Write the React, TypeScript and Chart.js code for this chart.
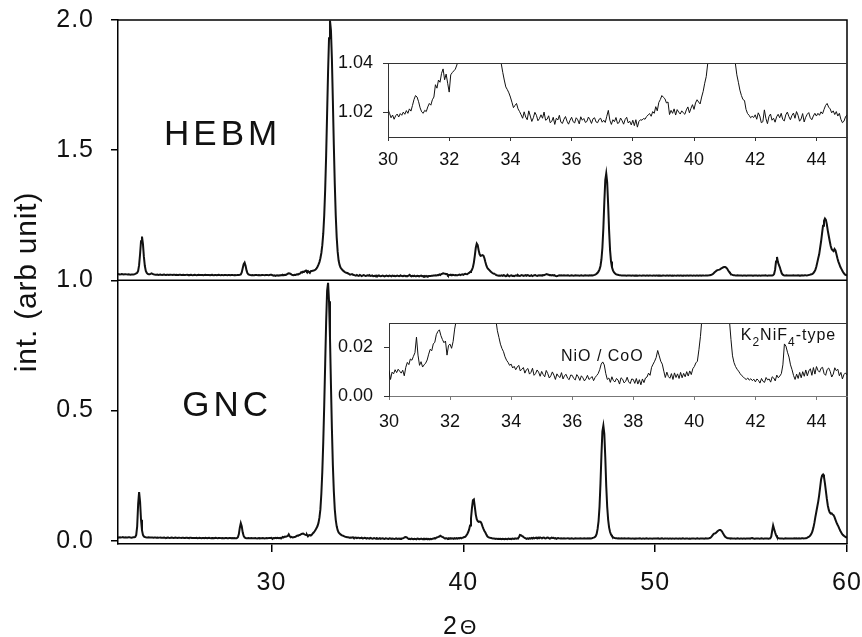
import { useEffect, useRef } from "react";
import { Chart, registerables } from "chart.js";

Chart.register(...registerables);

const FONT = '"Liberation Sans", Arial, Helvetica, sans-serif';

// Scan grid: 2Θ from 22° to 60° in 0.05° steps (20 readings per degree, one row per degree)
const SCAN_START = 22;
const SCAN_STEP = 0.05;

// HEBM intensity before stacking
const hebmIntensity: number[] = [
  /* 22 */ 0.0230, 0.0235, 0.0225, 0.0230, 0.0238, 0.0232, 0.0226, 0.0231, 0.0236, 0.0228, 0.0222, 0.0229, 0.0224, 0.0218, 0.0226, 0.0221, 0.0225, 0.0232, 0.0245, 0.0262,
  /* 23 */ 0.029, 0.036, 0.058, 0.100, 0.150, 0.168, 0.140, 0.090, 0.055, 0.036, 0.028, 0.0245, 0.023, 0.0232, 0.0245, 0.0265, 0.025, 0.0228, 0.0221, 0.0218,
  /* 24 */ 0.0212, 0.0218, 0.0209, 0.0215, 0.0220, 0.0211, 0.0206, 0.0214, 0.0219, 0.0212, 0.0208, 0.0215, 0.0210, 0.0204, 0.0213, 0.0217, 0.0209, 0.0205, 0.0212, 0.0216,
  /* 25 */ 0.0208, 0.0213, 0.0206, 0.0202, 0.0210, 0.0215, 0.0208, 0.0203, 0.0211, 0.0207, 0.0200, 0.0209, 0.0214, 0.0206, 0.0201, 0.0208, 0.0212, 0.0205, 0.0199, 0.0207,
  /* 26 */ 0.0211, 0.0204, 0.0199, 0.0207, 0.0212, 0.0205, 0.0201, 0.0208, 0.0203, 0.0198, 0.0206, 0.0211, 0.0204, 0.0200, 0.0207, 0.0203, 0.0197, 0.0205, 0.0210, 0.0202,
  /* 27 */ 0.0199, 0.0206, 0.0201, 0.0196, 0.0204, 0.0209, 0.0202, 0.0198, 0.0205, 0.0200, 0.0196, 0.0203, 0.0208, 0.0201, 0.0197, 0.0204, 0.0200, 0.0195, 0.0203, 0.0207,
  /* 28 */ 0.0201, 0.0197, 0.0204, 0.0199, 0.0203, 0.0208, 0.0205, 0.0212, 0.0225, 0.0300, 0.0460, 0.0620, 0.0680, 0.0560, 0.0380, 0.0270, 0.0225, 0.0210, 0.0203, 0.0199,
  /* 29 */ 0.0204, 0.0198, 0.0195, 0.0202, 0.0207, 0.0200, 0.0196, 0.0203, 0.0199, 0.0194, 0.0201, 0.0206, 0.0199, 0.0195, 0.0203, 0.0208, 0.0201, 0.0197, 0.0204, 0.0209,
  /* 30 */ 0.0211, 0.0196, 0.0178, 0.0189, 0.0172, 0.0186, 0.0193, 0.0181, 0.0195, 0.0188, 0.0201, 0.0192, 0.0207, 0.0196, 0.0214, 0.0205, 0.0228, 0.0252, 0.0268, 0.0262,
  /* 31 */ 0.0243, 0.0218, 0.0202, 0.0196, 0.0208, 0.0203, 0.0222, 0.0236, 0.0229, 0.0251, 0.0262, 0.0312, 0.0298, 0.0331, 0.0322, 0.0358, 0.0376, 0.0332, 0.0355, 0.0318,
  /* 32 */ 0.0282, 0.0352, 0.0361, 0.0368, 0.0375, 0.0392, 0.0415, 0.046, 0.052, 0.060, 0.070, 0.085, 0.105, 0.135, 0.180, 0.250, 0.350, 0.480, 0.640, 0.800,
  /* 33 */ 0.930, 0.998, 0.960, 0.850, 0.690, 0.520, 0.370, 0.250, 0.165, 0.110, 0.076, 0.059, 0.049, 0.0435, 0.0398, 0.0362, 0.0331, 0.0303, 0.0292, 0.0279,
  /* 34 */ 0.0262, 0.0241, 0.0219, 0.0228, 0.0236, 0.0214, 0.0203, 0.0190, 0.0176, 0.0202, 0.0181, 0.0170, 0.0206, 0.0185, 0.0163, 0.0178, 0.0200, 0.0188, 0.0166, 0.0175,
  /* 35 */ 0.0190, 0.0176, 0.0201, 0.0168, 0.0172, 0.0186, 0.0158, 0.0163, 0.0180, 0.0151, 0.0176, 0.0169, 0.0188, 0.0160, 0.0155, 0.0172, 0.0183, 0.0164, 0.0152, 0.0168,
  /* 36 */ 0.0180, 0.0162, 0.0157, 0.0178, 0.0170, 0.0153, 0.0182, 0.0168, 0.0175, 0.0159, 0.0163, 0.0181, 0.0170, 0.0155, 0.0174, 0.0178, 0.0161, 0.0158, 0.0172, 0.0176,
  /* 37 */ 0.0160, 0.0168, 0.0159, 0.0184, 0.0208, 0.0168, 0.0151, 0.0170, 0.0162, 0.0179, 0.0155, 0.0158, 0.0177, 0.0166, 0.0152, 0.0171, 0.0180, 0.0157, 0.0164, 0.0149,
  /* 38 */ 0.0168, 0.0146, 0.0170, 0.0140, 0.0163, 0.0170, 0.0168, 0.0175, 0.0172, 0.0183, 0.0189, 0.0195, 0.0184, 0.0203, 0.0196, 0.0223, 0.0206, 0.0240, 0.0252, 0.0268,
  /* 39 */ 0.0261, 0.0255, 0.0238, 0.0242, 0.0191, 0.0208, 0.0196, 0.0214, 0.0189, 0.0211, 0.0201, 0.0193, 0.0206, 0.0198, 0.0192, 0.0210, 0.0222, 0.0198, 0.0216, 0.0231,
  /* 40 */ 0.0212, 0.0238, 0.0251, 0.0242, 0.0234, 0.0262, 0.0285, 0.0318, 0.0345, 0.040, 0.050, 0.068, 0.095, 0.125, 0.141, 0.135, 0.115, 0.100, 0.094, 0.095,
  /* 41 */ 0.097, 0.095, 0.085, 0.070, 0.057, 0.048, 0.043, 0.040, 0.0352, 0.0322, 0.029, 0.0268, 0.0252, 0.0248, 0.0212, 0.0195, 0.0188, 0.0178, 0.0184, 0.0179,
  /* 42 */ 0.0190, 0.0172, 0.0198, 0.0185, 0.0158, 0.0162, 0.0210, 0.0175, 0.0154, 0.0183, 0.0193, 0.0168, 0.0176, 0.0160, 0.0182, 0.0192, 0.0178, 0.0196, 0.0171, 0.0165,
  /* 43 */ 0.0190, 0.0201, 0.0183, 0.0170, 0.0187, 0.0197, 0.0176, 0.0203, 0.0188, 0.0164, 0.0173, 0.0195, 0.0161, 0.0180, 0.0192, 0.0199, 0.0178, 0.0170, 0.0185, 0.0196,
  /* 44 */ 0.0185, 0.0196, 0.0188, 0.0202, 0.0194, 0.0212, 0.0228, 0.0236, 0.0221, 0.0214, 0.0198, 0.0206, 0.0191, 0.0203, 0.0185, 0.0196, 0.0172, 0.0158, 0.0164, 0.0181,
  /* 45 */ 0.0190, 0.0185, 0.0192, 0.0187, 0.0183, 0.0190, 0.0186, 0.0181, 0.0188, 0.0193, 0.0185, 0.0180, 0.0187, 0.0191, 0.0184, 0.0179, 0.0186, 0.0190, 0.0183, 0.0188,
  /* 46 */ 0.0184, 0.0180, 0.0187, 0.0191, 0.0183, 0.0179, 0.0186, 0.0190, 0.0184, 0.0181, 0.0188, 0.0185, 0.0190, 0.0186, 0.0192, 0.0189, 0.0200, 0.0210, 0.0230, 0.0250,
  /* 47 */ 0.029, 0.034, 0.042, 0.055, 0.080, 0.125, 0.200, 0.300, 0.385, 0.410, 0.375, 0.290, 0.190, 0.115, 0.072, 0.050, 0.038, 0.031, 0.027, 0.024,
  /* 48 */ 0.0222, 0.0210, 0.0202, 0.0196, 0.0191, 0.0187, 0.0184, 0.0189, 0.0182, 0.0186, 0.0180, 0.0185, 0.0188, 0.0181, 0.0184, 0.0179, 0.0186, 0.0182, 0.0178, 0.0185,
  /* 49 */ 0.0181, 0.0186, 0.0179, 0.0183, 0.0188, 0.0180, 0.0177, 0.0184, 0.0187, 0.0181, 0.0178, 0.0185, 0.0182, 0.0176, 0.0183, 0.0187, 0.0180, 0.0177, 0.0184, 0.0181,
  /* 50 */ 0.0178, 0.0185, 0.0182, 0.0176, 0.0183, 0.0186, 0.0179, 0.0175, 0.0182, 0.0187, 0.0180, 0.0177, 0.0184, 0.0181, 0.0176, 0.0183, 0.0186, 0.0179, 0.0182, 0.0177,
  /* 51 */ 0.0184, 0.0180, 0.0177, 0.0185, 0.0182, 0.0178, 0.0186, 0.0181, 0.0176, 0.0183, 0.0187, 0.0180, 0.0178, 0.0185, 0.0181, 0.0177, 0.0184, 0.0188, 0.0182, 0.0179,
  /* 52 */ 0.0185, 0.0181, 0.0178, 0.0186, 0.0183, 0.0179, 0.0187, 0.0182, 0.0180, 0.0185, 0.0189, 0.0183, 0.0180, 0.0186, 0.0184, 0.0188, 0.0191, 0.0196, 0.0200, 0.0220,
  /* 53 */ 0.024, 0.027, 0.031, 0.034, 0.037, 0.039, 0.040, 0.041, 0.043, 0.046, 0.048, 0.050, 0.051, 0.051, 0.049, 0.045, 0.039, 0.033, 0.028, 0.024,
  /* 54 */ 0.0220, 0.0205, 0.0198, 0.0192, 0.0188, 0.0185, 0.0190, 0.0184, 0.0181, 0.0187, 0.0183, 0.0179, 0.0186, 0.0182, 0.0188, 0.0180, 0.0184, 0.0187, 0.0181, 0.0185,
  /* 55 */ 0.0182, 0.0187, 0.0180, 0.0184, 0.0188, 0.0181, 0.0185, 0.0179, 0.0186, 0.0183, 0.0180, 0.0187, 0.0184, 0.0181, 0.0186, 0.0190, 0.0183, 0.0180, 0.0185, 0.0188,
  /* 56 */ 0.0184, 0.0181, 0.0186, 0.0195, 0.0240, 0.0400, 0.0720, 0.0900, 0.0700, 0.0590, 0.0500, 0.0370, 0.0265, 0.0215, 0.0195, 0.0188, 0.0185, 0.0190, 0.0183, 0.0187,
  /* 57 */ 0.0184, 0.0189, 0.0182, 0.0186, 0.0191, 0.0185, 0.0181, 0.0188, 0.0184, 0.0190, 0.0186, 0.0183, 0.0189, 0.0192, 0.0185, 0.0188, 0.0194, 0.0190, 0.0187, 0.0193,
  /* 58 */ 0.020, 0.021, 0.022, 0.023, 0.025, 0.028, 0.033, 0.040, 0.052, 0.068, 0.085, 0.100, 0.125, 0.150, 0.180, 0.210, 0.228, 0.237, 0.232, 0.215,
  /* 59 */ 0.190, 0.170, 0.150, 0.132, 0.120, 0.115, 0.112, 0.120, 0.115, 0.100, 0.085, 0.072, 0.062, 0.052, 0.045, 0.038, 0.031, 0.026, 0.022, 0.020,
  /* 60 */ 0.019,
];

// GNC intensity
const gncIntensity: number[] = [
  /* 22 */ 0.0128, 0.0122, 0.0131, 0.0119, 0.0125, 0.0133, 0.0121, 0.0116, 0.0127, 0.0124, 0.0118, 0.0126, 0.0131, 0.0120, 0.0115, 0.0123, 0.0129, 0.0132, 0.0140, 0.0220,
  /* 23 */ 0.055, 0.140, 0.186, 0.150, 0.080, 0.040, 0.022, 0.016, 0.0135, 0.0126, 0.0119, 0.0124, 0.0130, 0.0121, 0.0116, 0.0123, 0.0118, 0.0112, 0.0120, 0.0117,
  /* 24 */ 0.0113, 0.0119, 0.0108, 0.0115, 0.0121, 0.0110, 0.0106, 0.0114, 0.0118, 0.0109, 0.0104, 0.0112, 0.0117, 0.0108, 0.0103, 0.0111, 0.0116, 0.0107, 0.0102, 0.0110,
  /* 25 */ 0.0115, 0.0106, 0.0101, 0.0109, 0.0114, 0.0105, 0.0100, 0.0108, 0.0113, 0.0104, 0.0099, 0.0107, 0.0112, 0.0103, 0.0098, 0.0106, 0.0111, 0.0102, 0.0097, 0.0105,
  /* 26 */ 0.0104, 0.0098, 0.0107, 0.0095, 0.0101, 0.0109, 0.0097, 0.0093, 0.0103, 0.0100, 0.0094, 0.0106, 0.0099, 0.0092, 0.0102, 0.0108, 0.0096, 0.0091, 0.0100, 0.0097,
  /* 27 */ 0.0093, 0.0101, 0.0106, 0.0095, 0.0090, 0.0099, 0.0104, 0.0096, 0.0092, 0.0100, 0.0095, 0.0089, 0.0098, 0.0103, 0.0094, 0.0091, 0.0099, 0.0096, 0.0090, 0.0097,
  /* 28 */ 0.0094, 0.0099, 0.0092, 0.0097, 0.0103, 0.0130, 0.0250, 0.0500, 0.0670, 0.0550, 0.0320, 0.0180, 0.0120, 0.0101, 0.0095, 0.0091, 0.0098, 0.0093, 0.0088, 0.0096,
  /* 29 */ 0.0092, 0.0087, 0.0095, 0.0099, 0.0090, 0.0086, 0.0094, 0.0098, 0.0089, 0.0093, 0.0088, 0.0096, 0.0091, 0.0086, 0.0095, 0.0100, 0.0092, 0.0097, 0.0104, 0.0098,
  /* 30 */ 0.0105, 0.0068, 0.0098, 0.0091, 0.0108, 0.0096, 0.0110, 0.0102, 0.0094, 0.0106, 0.0083, 0.0118, 0.0138, 0.0129, 0.0152, 0.0147, 0.0163, 0.0178, 0.0242, 0.0168,
  /* 31 */ 0.0126, 0.0141, 0.0119, 0.0128, 0.0135, 0.0148, 0.0172, 0.0192, 0.0186, 0.0214, 0.0221, 0.0252, 0.0265, 0.0272, 0.0248, 0.0232, 0.0219, 0.0226, 0.0168, 0.0208,
  /* 32 */ 0.0213, 0.0196, 0.0224, 0.0275, 0.0310, 0.0360, 0.0420, 0.0480, 0.0560, 0.0680, 0.0880, 0.120, 0.180, 0.265, 0.380, 0.520, 0.680, 0.840, 0.960, 0.990,
  /* 33 */ 0.920, 0.780, 0.600, 0.430, 0.290, 0.190, 0.120, 0.080, 0.055, 0.040, 0.0312, 0.0268, 0.0241, 0.0213, 0.0195, 0.0182, 0.0161, 0.0147, 0.0138, 0.0126,
  /* 34 */ 0.0131, 0.0115, 0.0122, 0.0108, 0.0119, 0.0126, 0.0103, 0.0110, 0.0117, 0.0094, 0.0108, 0.0113, 0.0090, 0.0097, 0.0114, 0.0085, 0.0092, 0.0107, 0.0098, 0.0081,
  /* 35 */ 0.0101, 0.0088, 0.0079, 0.0105, 0.0092, 0.0074, 0.0083, 0.0099, 0.0086, 0.0068, 0.0091, 0.0081, 0.0076, 0.0096, 0.0070, 0.0084, 0.0089, 0.0073, 0.0067, 0.0086,
  /* 36 */ 0.0085, 0.0072, 0.0066, 0.0088, 0.0079, 0.0064, 0.0083, 0.0075, 0.0062, 0.0071, 0.0085, 0.0068, 0.0073, 0.0080, 0.0063, 0.0076, 0.0084, 0.0092, 0.0108, 0.0131,
  /* 37 */ 0.0140, 0.0128, 0.0092, 0.0068, 0.0074, 0.0056, 0.0079, 0.0063, 0.0058, 0.0072, 0.0066, 0.0049, 0.0075, 0.0069, 0.0054, 0.0060, 0.0077, 0.0058, 0.0051, 0.0070,
  /* 38 */ 0.0068, 0.0052, 0.0072, 0.0049, 0.0067, 0.0046, 0.0070, 0.0055, 0.0074, 0.0078, 0.0094, 0.0085, 0.0118, 0.0131, 0.0143, 0.0158, 0.0187, 0.0165, 0.0143, 0.0131,
  /* 39 */ 0.0102, 0.0076, 0.0098, 0.0080, 0.0073, 0.0092, 0.0068, 0.0095, 0.0076, 0.0091, 0.0072, 0.0097, 0.0075, 0.0093, 0.0079, 0.0100, 0.0082, 0.0103, 0.0088, 0.0112,
  /* 40 */ 0.0121, 0.0136, 0.0143, 0.0190, 0.0245, 0.0320, 0.0420, 0.0580, 0.0850, 0.1250, 0.1550, 0.1580, 0.1300, 0.1000, 0.0820, 0.0750, 0.0720, 0.0730, 0.0720, 0.0660,
  /* 41 */ 0.0550, 0.0450, 0.0370, 0.0310, 0.0232, 0.0165, 0.0137, 0.0121, 0.0110, 0.0102, 0.0092, 0.0084, 0.0079, 0.0072, 0.0068, 0.0074, 0.0065, 0.0071, 0.0063, 0.0069,
  /* 42 */ 0.0058, 0.0070, 0.0064, 0.0053, 0.0072, 0.0060, 0.0056, 0.0076, 0.0066, 0.0070, 0.0057, 0.0079, 0.0074, 0.0062, 0.0086, 0.0075, 0.0082, 0.0092, 0.0128, 0.0214,
  /* 43 */ 0.0205, 0.0180, 0.0160, 0.0128, 0.0108, 0.0084, 0.0068, 0.0090, 0.0072, 0.0097, 0.0075, 0.0100, 0.0081, 0.0107, 0.0083, 0.0103, 0.0112, 0.0085, 0.0117, 0.0090,
  /* 44 */ 0.0121, 0.0105, 0.0098, 0.0114, 0.0118, 0.0092, 0.0085, 0.0109, 0.0115, 0.0101, 0.0078, 0.0090, 0.0116, 0.0104, 0.0110, 0.0083, 0.0097, 0.0070, 0.0088, 0.0095,
  /* 45 */ 0.0086, 0.0081, 0.0089, 0.0084, 0.0079, 0.0087, 0.0083, 0.0078, 0.0086, 0.0091, 0.0082, 0.0077, 0.0085, 0.0089, 0.0081, 0.0076, 0.0084, 0.0088, 0.0080, 0.0085,
  /* 46 */ 0.0082, 0.0078, 0.0086, 0.0081, 0.0077, 0.0085, 0.0089, 0.0080, 0.0084, 0.0079, 0.0087, 0.0083, 0.0088, 0.0086, 0.0092, 0.0105, 0.0115, 0.0135, 0.0170, 0.0260,
  /* 47 */ 0.045, 0.075, 0.130, 0.220, 0.330, 0.420, 0.442, 0.410, 0.320, 0.210, 0.130, 0.080, 0.050, 0.033, 0.023, 0.017, 0.013, 0.011, 0.010, 0.0093,
  /* 48 */ 0.0089, 0.0085, 0.0091, 0.0083, 0.0080, 0.0087, 0.0082, 0.0078, 0.0086, 0.0081, 0.0077, 0.0084, 0.0088, 0.0079, 0.0083, 0.0076, 0.0085, 0.0080, 0.0075, 0.0082,
  /* 49 */ 0.0079, 0.0084, 0.0077, 0.0081, 0.0086, 0.0078, 0.0074, 0.0083, 0.0080, 0.0076, 0.0082, 0.0087, 0.0079, 0.0075, 0.0081, 0.0084, 0.0077, 0.0073, 0.0080, 0.0085,
  /* 50 */ 0.0081, 0.0077, 0.0083, 0.0088, 0.0079, 0.0075, 0.0082, 0.0086, 0.0078, 0.0074, 0.0080, 0.0084, 0.0077, 0.0081, 0.0076, 0.0083, 0.0079, 0.0074, 0.0082, 0.0078,
  /* 51 */ 0.0075, 0.0081, 0.0085, 0.0078, 0.0073, 0.0080, 0.0084, 0.0076, 0.0079, 0.0083, 0.0077, 0.0072, 0.0080, 0.0085, 0.0078, 0.0074, 0.0081, 0.0076, 0.0082, 0.0079,
  /* 52 */ 0.0083, 0.0077, 0.0074, 0.0081, 0.0086, 0.0079, 0.0075, 0.0082, 0.0078, 0.0084, 0.0080, 0.0076, 0.0083, 0.0087, 0.0081, 0.0085, 0.0090, 0.0098, 0.0120, 0.0160,
  /* 53 */ 0.021, 0.026, 0.027, 0.029, 0.032, 0.036, 0.039, 0.041, 0.041, 0.038, 0.033, 0.026, 0.020, 0.015, 0.012, 0.0102, 0.0093, 0.0088, 0.0082, 0.0086,
  /* 54 */ 0.0080, 0.0077, 0.0084, 0.0079, 0.0074, 0.0082, 0.0087, 0.0078, 0.0075, 0.0083, 0.0080, 0.0076, 0.0084, 0.0079, 0.0073, 0.0081, 0.0085, 0.0078, 0.0082, 0.0077,
  /* 55 */ 0.0095, 0.0098, 0.0088, 0.0080, 0.0076, 0.0083, 0.0079, 0.0085, 0.0078, 0.0074, 0.0081, 0.0086, 0.0079, 0.0075, 0.0082, 0.0078, 0.0084, 0.0080, 0.0076, 0.0083,
  /* 56 */ 0.0088, 0.0150, 0.0380, 0.0580, 0.0450, 0.0320, 0.0210, 0.0140, 0.0105, 0.0090, 0.0082, 0.0079, 0.0085, 0.0080, 0.0076, 0.0083, 0.0087, 0.0079, 0.0084, 0.0081,
  /* 57 */ 0.0078, 0.0085, 0.0082, 0.0077, 0.0084, 0.0089, 0.0081, 0.0086, 0.0080, 0.0083, 0.0088, 0.0084, 0.0079, 0.0087, 0.0091, 0.0085, 0.0089, 0.0094, 0.0100, 0.0120,
  /* 58 */ 0.014, 0.017, 0.021, 0.027, 0.036, 0.050, 0.068, 0.090, 0.110, 0.130, 0.150, 0.175, 0.205, 0.235, 0.250, 0.254, 0.245, 0.220, 0.190, 0.160,
  /* 59 */ 0.135, 0.118, 0.108, 0.104, 0.105, 0.100, 0.098, 0.090, 0.080, 0.070, 0.062, 0.055, 0.046, 0.038, 0.031, 0.025, 0.021, 0.018, 0.015, 0.013,
  /* 60 */ 0.012,
];

// HEBM is stacked one unit above GNC
const HEBM_SHIFT = 1;

const mainXTicks = [30, 40, 50, 60];
const mainYTicks = [0, 0.5, 1, 1.5, 2];
const insetXTicks = [30, 32, 34, 36, 38, 40, 42, 44];
const hebmInsetYTicks = [1.02, 1.04];
const gncInsetYTicks = [0, 0.02];

const INSET_FROM = 30;
const INSET_TO = 45;

type Pt = { x: number; y: number };

function scanPoints(values: number[], shift: number, from = -Infinity, to = Infinity): Pt[] {
  const pts: Pt[] = [];
  values.forEach((v, i) => {
    const x = Math.round((SCAN_START + i * SCAN_STEP) * 100) / 100;
    if (x >= from - 1e-9 && x <= to + 1e-9) pts.push({ x, y: v + shift });
  });
  return pts;
}

const trace = (data: Pt[], width: number) => ({
  data,
  borderColor: "#111",
  borderWidth: width,
  pointRadius: 0,
  tension: 0,
  fill: false,
});

const fixedTicks = (values: number[]) => (scale: any) => {
  scale.ticks = values.map((value) => ({ value }));
};

const sizeY = (w: number) => (scale: any) => {
  scale.width = w;
  scale.paddingTop = 0;
  scale.paddingBottom = 0;
};
const sizeX = (h: number) => (scale: any) => {
  scale.height = h;
  scale.paddingLeft = 0;
  scale.paddingRight = 0;
};

// frame, stacking line, sample names and axis titles of the main panel
const mainDecor = {
  id: "mainDecor",
  beforeDraw(chart: any) {
    chart.ctx.letterSpacing = "1px";
  },
  afterDraw(chart: any) {
    const { ctx, chartArea: a, scales } = chart;
    ctx.save();
    ctx.letterSpacing = "0px";
    ctx.strokeStyle = "#000";
    ctx.lineWidth = 1.5;
    ctx.beginPath();
    ctx.moveTo(a.left, a.top);
    ctx.lineTo(a.right, a.top);
    ctx.lineTo(a.right, a.bottom);
    const ySplit = scales.y.getPixelForValue(HEBM_SHIFT);
    ctx.moveTo(a.left, ySplit);
    ctx.lineTo(a.right, ySplit);
    ctx.stroke();

    ctx.fillStyle = "#111";
    ctx.textBaseline = "alphabetic";
    ctx.textAlign = "left";
    ctx.font = `35px ${FONT}`;
    ctx.letterSpacing = "4px";
    ctx.fillText("HEBM", scales.x.getPixelForValue(24.4), scales.y.getPixelForValue(1.52));
    ctx.fillText("GNC", scales.x.getPixelForValue(25.35), scales.y.getPixelForValue(0.48));

    // y axis title
    ctx.save();
    ctx.font = `30px ${FONT}`;
    ctx.letterSpacing = "0.8px";
    ctx.translate(a.left - 82, (a.top + a.bottom) / 2);
    ctx.rotate(-Math.PI / 2);
    ctx.textAlign = "center";
    ctx.fillText("int. (arb unit)", 0, 0);
    ctx.restore();

    // x axis title: 2Θ
    ctx.letterSpacing = "0px";
    ctx.textAlign = "left";
    const tx = a.left + 325;
    const ty = a.bottom + 90;
    ctx.font = `25px ${FONT}`;
    ctx.fillText("2", tx, ty);
    const w2 = ctx.measureText("2").width;
    ctx.font = `21px ${FONT}`;
    ctx.fillText("Θ", tx + w2 + 3, ty);
    ctx.restore();
  },
};

// upper border line of an inset
const insetFrame = {
  id: "insetFrame",
  afterDraw(chart: any) {
    const { ctx, chartArea: a } = chart;
    ctx.save();
    ctx.strokeStyle = "#333";
    ctx.lineWidth = 1;
    const y = Math.round(a.top) + 0.5;
    ctx.beginPath();
    ctx.moveTo(a.left, y);
    ctx.lineTo(a.right, y);
    ctx.stroke();
    ctx.restore();
  },
};

// phase labels in the GNC inset
const phaseLabels = {
  id: "phaseLabels",
  afterDraw(chart: any) {
    const { ctx, scales } = chart;
    ctx.save();
    ctx.fillStyle = "#111";
    ctx.textBaseline = "alphabetic";
    ctx.textAlign = "left";
    ctx.font = `16px ${FONT}`;
    ctx.letterSpacing = "1px";
    ctx.fillText("NiO / CoO", scales.x.getPixelForValue(35.63), scales.y.getPixelForValue(0.0143));

    let x = scales.x.getPixelForValue(41.52);
    const y = scales.y.getPixelForValue(0.023);
    const part = (text: string, size: number, dy: number) => {
      ctx.font = `${size}px ${FONT}`;
      ctx.fillText(text, x, y + dy);
      x += ctx.measureText(text).width;
    };
    part("K", 16, 0);
    part("2", 12, 5.5);
    part("NiF", 16, 0);
    part("4", 12, 5.5);
    part("-type", 16, 0);
    ctx.restore();
  },
};

const axisCommon = (color: string, width: number, tickLength: number) => ({
  type: "linear" as const,
  grid: {
    display: true,
    drawOnChartArea: false,
    drawTicks: true,
    tickLength,
    color,
    tickColor: color,
    lineWidth: width,
  },
  border: { display: true, color, width },
});

function mainConfig(): any {
  return {
    type: "line",
    data: {
      datasets: [
        trace(scanPoints(hebmIntensity, HEBM_SHIFT), 2),
        trace(scanPoints(gncIntensity, 0), 2),
      ],
    },
    options: {
      animation: false,
      responsive: false,
      events: [],
      layout: { padding: { left: 0, right: 15, top: 20, bottom: 0 } },
      plugins: { legend: { display: false }, tooltip: { enabled: false } },
      scales: {
        x: {
          ...axisCommon("#000", 1.5, 8),
          min: 22,
          max: 60,
          afterBuildTicks: fixedTicks(mainXTicks),
          afterFit: sizeX(93),
          ticks: {
            color: "#111",
            font: { family: FONT, size: 25 },
            padding: 16,
            maxRotation: 0,
            autoSkip: false,
            callback: (v: number) => String(v),
          },
        },
        y: {
          ...axisCommon("#000", 1.5, 7),
          min: -0.013,
          max: 2,
          afterBuildTicks: fixedTicks(mainYTicks),
          afterFit: sizeY(118),
          ticks: {
            color: "#111",
            font: { family: FONT, size: 25 },
            padding: 17,
            autoSkip: false,
            callback: (v: number) => Number(v).toFixed(1),
          },
        },
      },
    },
    plugins: [mainDecor],
  };
}

function insetConfig(
  data: Pt[],
  yMin: number,
  yMax: number,
  yTicks: number[],
  yWidth: number,
  xHeight: number,
  padTop: number,
  xPad: number,
  yPad: number,
  bottomColor: string,
  extra: any[]
): any {
  return {
    type: "line",
    data: { datasets: [trace(data, 1)] },
    options: {
      animation: false,
      responsive: false,
      events: [],
      layout: { padding: { left: 0, right: 15, top: padTop, bottom: 0 } },
      plugins: { legend: { display: false }, tooltip: { enabled: false } },
      scales: {
        x: {
          ...axisCommon(bottomColor, 1, 4),
          min: INSET_FROM,
          max: INSET_TO,
          afterBuildTicks: fixedTicks(insetXTicks),
          afterFit: sizeX(xHeight),
          ticks: {
            color: "#111",
            font: { family: FONT, size: 18 },
            padding: xPad,
            maxRotation: 0,
            autoSkip: false,
            callback: (v: number) => String(v),
          },
        },
        y: {
          ...axisCommon("#333", 1, 5),
          min: yMin,
          max: yMax,
          afterBuildTicks: fixedTicks(yTicks),
          afterFit: sizeY(yWidth),
          ticks: {
            color: "#111",
            font: { family: FONT, size: 18 },
            padding: yPad,
            autoSkip: false,
            callback: (v: number) => Number(v).toFixed(2),
          },
        },
      },
    },
    plugins: [insetFrame, ...extra],
  };
}

export default function App() {
  const mainRef = useRef<HTMLCanvasElement>(null);
  const hebmRef = useRef<HTMLCanvasElement>(null);
  const gncRef = useRef<HTMLCanvasElement>(null);

  useEffect(() => {
    Chart.defaults.font.family = FONT;
    const charts: Chart[] = [];
    if (mainRef.current) charts.push(new Chart(mainRef.current, mainConfig()));
    if (hebmRef.current)
      charts.push(
        new Chart(
          hebmRef.current,
          insetConfig(
            scanPoints(hebmIntensity, HEBM_SHIFT, INSET_FROM, INSET_TO),
            1.01,
            1.04,
            hebmInsetYTicks,
            58,
            43,
            23,
            8,
            10,
            "#333",
            []
          )
        )
      );
    if (gncRef.current)
      charts.push(
        new Chart(
          gncRef.current,
          insetConfig(
            scanPoints(gncIntensity, 0, INSET_FROM, INSET_TO),
            0,
            0.03,
            gncInsetYTicks,
            59,
            44,
            23,
            11,
            11,
            "#777",
            [phaseLabels]
          )
        )
      );
    return () => charts.forEach((c) => c.destroy());
  }, []);

  return (
    <div style={{ position: "fixed", left: 0, top: 0, width: 862, height: 637, background: "#fff" }}>
      <canvas ref={mainRef} width={862} height={637} style={{ position: "absolute", left: 0, top: 0 }} />
      <canvas ref={hebmRef} width={532} height={140} style={{ position: "absolute", left: 330, top: 40 }} />
      <canvas ref={gncRef} width={532} height={140} style={{ position: "absolute", left: 330, top: 300 }} />
    </div>
  );
}
